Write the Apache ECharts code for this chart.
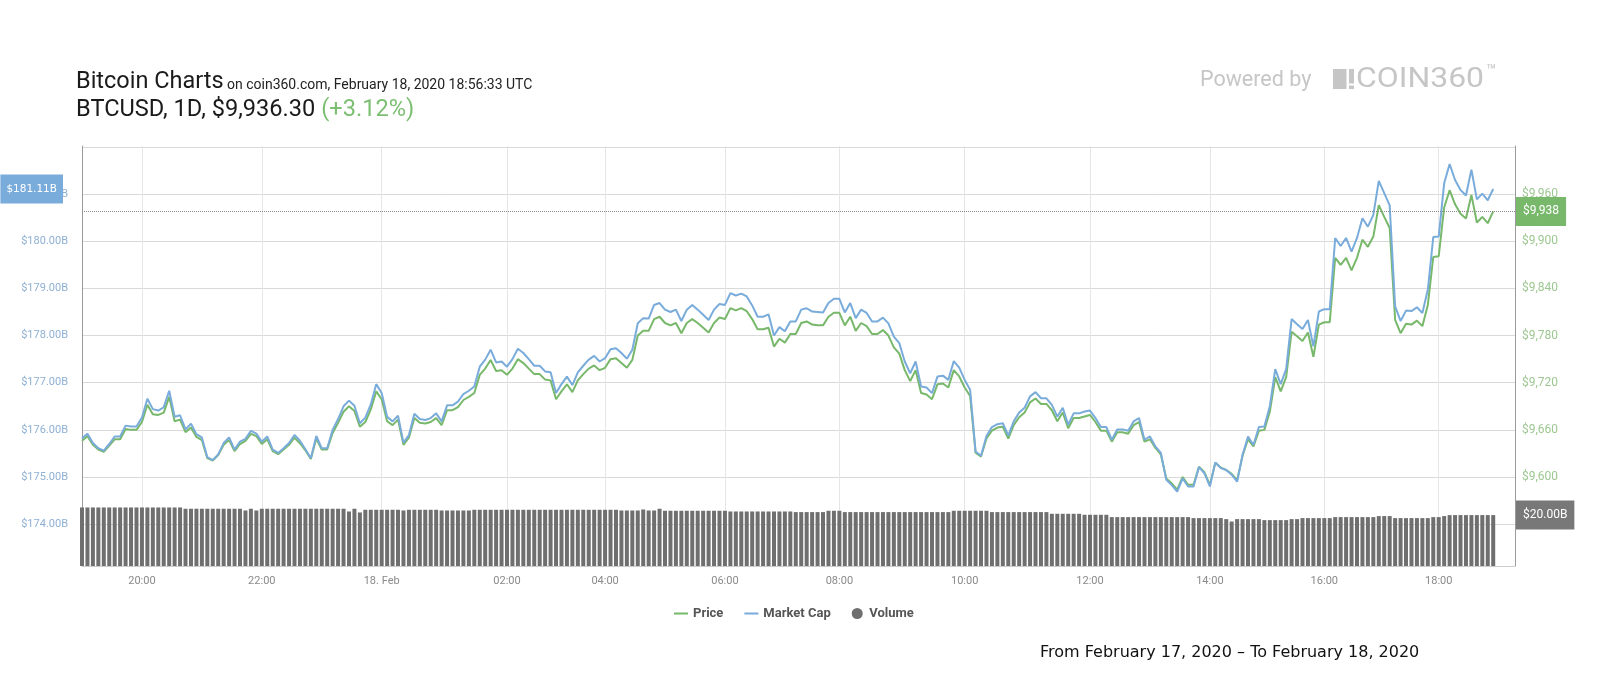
<!DOCTYPE html>
<html><head><meta charset="utf-8">
<script src="https://cdn.jsdelivr.net/npm/echarts@6/dist/echarts.min.js"></script>
<style>html,body{margin:0;padding:0;background:#fff}#c{width:1600px;height:700px}</style>
</head><body><div id="c"></div>
<script>
// ---- data ----
const price = [
9646,9652,9641,9635,9632,9640,9648,9648,9661,9660,
9660,9670,9692,9680,9679,9682,9702,9671,9673,9657,
9663,9651,9647,9624,9621,9628,9641,9647,9633,9642,
9646,9655,9652,9642,9648,9633,9629,9635,9641,9650,
9643,9634,9623,9649,9635,9635,9656,9669,9683,9690,
9684,9664,9670,9686,9709,9699,9671,9666,9673,9641,
9650,9675,9669,9668,9670,9675,9666,9685,9685,9689,
9698,9702,9707,9730,9738,9749,9735,9736,9730,9738,
9750,9745,9738,9731,9731,9724,9723,9699,9709,9718,
9708,9723,9731,9738,9742,9736,9739,9750,9751,9745,
9739,9749,9780,9786,9786,9801,9804,9796,9793,9796,
9783,9796,9801,9796,9790,9784,9796,9803,9801,9815,
9812,9815,9811,9801,9788,9788,9790,9766,9776,9771,
9782,9782,9796,9798,9794,9793,9793,9804,9809,9809,
9793,9804,9786,9796,9792,9782,9782,9787,9780,9765,
9757,9736,9722,9736,9707,9705,9699,9718,9719,9714,
9736,9728,9714,9703,9631,9626,9649,9659,9663,9664,
9649,9666,9676,9682,9695,9700,9693,9693,9685,9671,
9682,9662,9675,9675,9677,9679,9670,9659,9659,9645,
9657,9657,9655,9666,9670,9645,9648,9637,9629,9598,
9592,9584,9600,9590,9590,9613,9606,9590,9618,9612,
9609,9604,9596,9627,9648,9639,9659,9660,9683,9727,
9709,9727,9785,9779,9773,9784,9753,9794,9797,9797,
9879,9870,9879,9863,9879,9902,9893,9906,9946,9931,
9917,9800,9783,9795,9794,9799,9792,9819,9880,9881,
9943,9965,9947,9935,9929,9959,9924,9931,9923,9938
];
const marketCap = [
175.82,175.92,175.72,175.61,175.56,175.70,175.86,175.86,176.09,176.07,
176.07,176.26,176.66,176.44,176.41,176.48,176.83,176.28,176.31,176.01,
176.13,175.91,175.84,175.42,175.36,175.48,175.72,175.84,175.58,175.75,
175.81,175.98,175.92,175.75,175.86,175.58,175.51,175.61,175.72,175.89,
175.77,175.59,175.40,175.87,175.61,175.61,176.00,176.23,176.50,176.62,
176.51,176.14,176.26,176.54,176.97,176.78,176.28,176.18,176.30,175.73,
175.89,176.34,176.23,176.21,176.25,176.35,176.18,176.52,176.52,176.60,
176.76,176.83,176.92,177.34,177.49,177.70,177.43,177.45,177.34,177.50,
177.72,177.63,177.50,177.36,177.36,177.24,177.22,176.78,176.97,177.13,
176.95,177.22,177.36,177.49,177.57,177.45,177.52,177.71,177.73,177.63,
177.51,177.70,178.26,178.37,178.36,178.65,178.69,178.55,178.50,178.55,
178.31,178.55,178.65,178.55,178.44,178.33,178.55,178.67,178.65,178.90,
178.85,178.89,178.83,178.64,178.40,178.40,178.45,178.00,178.18,178.09,
178.30,178.30,178.55,178.58,178.51,178.50,178.49,178.69,178.78,178.78,
178.49,178.69,178.37,178.55,178.48,178.30,178.30,178.38,178.26,177.98,
177.84,177.45,177.20,177.45,176.92,176.90,176.78,177.13,177.15,177.06,
177.46,177.32,177.06,176.85,175.54,175.45,175.87,176.06,176.12,176.14,
175.88,176.18,176.37,176.47,176.71,176.80,176.67,176.67,176.53,176.28,
176.47,176.11,176.35,176.35,176.39,176.41,176.25,176.06,176.06,175.79,
176.01,176.01,175.98,176.18,176.25,175.79,175.86,175.65,175.51,174.94,
174.83,174.69,174.97,174.80,174.80,175.21,175.08,174.80,175.31,175.19,
175.15,175.05,174.90,175.47,175.86,175.68,176.06,176.07,176.50,177.29,
176.97,177.29,178.35,178.24,178.14,178.33,177.77,178.51,178.56,178.56,
180.07,179.90,180.07,179.78,180.07,180.49,180.31,180.56,181.28,181.02,
180.76,178.62,178.31,178.53,178.52,178.60,178.48,178.97,180.09,180.10,
181.23,181.64,181.30,181.09,180.97,181.52,180.89,181.01,180.87,181.11
];
const volume = [
23.00,23.00,23.00,23.00,23.00,23.00,23.00,23.00,23.00,23.00,
23.00,23.00,23.00,23.00,23.00,23.00,23.00,23.00,23.00,22.49,
22.49,22.49,22.49,22.49,22.49,22.49,22.49,22.49,22.49,22.49,
21.81,22.49,21.81,22.49,22.49,22.49,22.49,22.49,22.49,22.49,
22.49,22.49,22.49,22.49,22.49,22.49,22.49,22.49,22.49,21.42,
22.49,21.03,22.09,22.09,22.09,22.09,22.09,22.09,22.09,21.81,
22.09,22.09,22.09,22.09,22.09,22.09,21.81,21.81,21.81,21.81,
21.81,21.81,22.09,22.09,22.09,22.09,22.09,22.09,22.09,22.09,
22.09,22.09,22.09,22.09,22.09,22.09,22.09,22.09,22.09,22.09,
22.09,22.09,22.09,22.09,22.09,22.09,22.09,22.09,22.09,21.81,
21.81,21.81,21.81,22.20,21.81,21.81,22.49,21.70,21.70,21.70,
21.70,21.70,21.70,21.70,21.70,21.70,21.70,21.70,21.70,21.42,
21.42,21.42,21.42,21.42,21.42,21.42,21.42,21.42,21.42,21.42,
21.42,21.18,21.18,21.18,21.18,21.18,21.18,21.70,21.70,21.70,
21.18,21.18,21.18,21.18,21.18,21.18,21.18,21.18,21.18,21.18,
21.18,21.18,21.18,21.18,21.18,21.18,21.18,21.18,21.18,21.18,
21.70,21.70,21.70,21.70,21.70,21.70,21.70,21.18,21.18,21.18,
21.18,21.18,21.18,21.18,21.18,21.18,21.18,21.18,20.51,20.51,
20.51,20.51,20.51,20.51,20.12,20.12,20.12,20.12,20.12,19.21,
19.21,19.21,19.21,19.21,19.21,19.21,19.21,19.21,19.21,19.21,
19.21,19.21,19.21,19.21,18.82,18.82,18.82,18.82,18.82,18.82,
18.42,17.48,18.42,18.42,18.42,18.42,18.42,18.03,18.03,18.03,
18.03,18.03,18.42,18.42,18.82,18.82,18.82,18.82,18.82,18.82,
19.21,19.21,19.21,19.21,19.21,19.21,19.21,19.21,19.61,19.61,
19.61,18.82,18.82,18.82,18.82,18.82,18.82,18.82,19.21,19.21,
19.61,20.00,20.00,20.00,20.00,20.00,20.00,20.00,20.00,20.00
];
const xTickIndex  = [11, 33, 55, 78, 96, 118, 139, 162, 185, 207, 228, 249];
const xTickLabels = ['20:00','22:00','18. Feb','02:00','04:00','06:00','08:00','10:00','12:00','14:00','16:00','18:00'];
const slotCount = 264; // time slots on the ordinal axis (last few are empty padding)
const legendNames = ['Price', 'Market Cap', 'Volume'];

// ---- chart ----
const cats = [];
for (let i = 0; i < slotCount; i++) cats.push(String(i));
const isTick = (idx) => xTickIndex.indexOf(idx) >= 0;

const C_GREEN = '#78b86b', C_BLUE = '#79acda', C_VOL = '#6f6f6f';
const CLEAR = 'rgba(0,0,0,0)';
const lastPrice = price[price.length - 1];
const lastCap = marketCap[marketCap.length - 1];
const lastVol = volume[volume.length - 1];
const linePath = 'path://M0,0L0.001,0M0,4.5L14,4.5L14,6.5L0,6.5ZM14,11L13.999,11';

const chart = echarts.init(document.getElementById('c'), null, {renderer: 'canvas'});
chart.setOption({
  animation: false,
  backgroundColor: '#ffffff',
  grid: [
    {left: 82, right: 85, top: 147, bottom: 128.7, containLabel: false, outerBoundsMode: 'none'},
    {left: 82, right: 85, top: 146, bottom: 134, containLabel: false, outerBoundsMode: 'none'}
  ],
  xAxis: [
    {type: 'category', gridIndex: 0, data: cats, boundaryGap: false, show: false},
    {type: 'category', gridIndex: 1, data: cats, boundaryGap: false,
      axisLine: {show: true, lineStyle: {color: '#cccccc', width: 1}},
      axisTick: {show: false},
      axisLabel: {interval: (i) => isTick(i), formatter: (v, i) => xTickLabels[xTickIndex.indexOf(Number(v))] || '',
        color: '#8a8a8a', fontFamily: 'Roboto', fontSize: 11, margin: 10},
      splitLine: {show: true, interval: (i) => isTick(i), lineStyle: {color: '#e6e6e6', width: 1}}
    }
  ],
  yAxis: [
    {type: 'value', gridIndex: 0, position: 'left', min: 173, max: 182, interval: 1,
      axisLine: {show: false}, axisTick: {show: false},
      axisLabel: {showMinLabel: false, showMaxLabel: false, formatter: (v) => '$' + v.toFixed(2) + 'B', color: '#8eb0d4',
        fontFamily: 'Roboto', fontSize: 11, margin: 14},
      splitLine: {show: true, showMinLine: false, lineStyle: {color: '#d9d9d9', width: 1}}
    },
    {type: 'value', gridIndex: 0, position: 'right', min: 9480, max: 10020, interval: 60,
      axisLine: {show: false}, axisTick: {show: false},
      axisLabel: {showMinLabel: false, showMaxLabel: false, formatter: (v) => '$' + v.toLocaleString('en-US'), color: '#9dc792',
        fontFamily: 'Roboto', fontSize: 12, margin: 7},
      splitLine: {show: false}
    },
    {type: 'value', gridIndex: 1, position: 'left', min: 0, max: 165,
      axisLine: {show: true, lineStyle: {color: '#9a9a9a', width: 1}}, axisTick: {show: false},
      axisLabel: {show: false}, splitLine: {show: false}
    },
    {type: 'value', gridIndex: 1, position: 'right', min: 0, max: 165,
      axisLine: {show: true, lineStyle: {color: '#9a9a9a', width: 1}}, axisTick: {show: false},
      axisLabel: {show: false}, splitLine: {show: false}
    }
  ],
  legend: {
    left: 669, top: 602, itemWidth: 14, itemHeight: 11, itemGap: 21,
    itemStyle: {borderWidth: 0},
    textStyle: {fontFamily: 'Roboto', fontSize: 13, fontWeight: 'bold', color: '#555555'},
    selectedMode: false,
    data: [
      {name: legendNames[0], icon: linePath},
      {name: legendNames[1], icon: linePath},
      {name: legendNames[2], icon: 'circle'}
    ]
  },
  series: [
    {name: legendNames[0], type: 'line', xAxisIndex: 0, yAxisIndex: 1, data: price,
      symbol: 'none', color: C_GREEN, lineStyle: {color: C_GREEN, width: 2}, z: 3,
      markLine: {silent: true, symbol: 'none',
        lineStyle: {type: 'dotted', color: '#8a8a8a', width: 1},
        label: {show: true, position: 'end', distance: 1, formatter: (p) => '$' + Math.round(p.value).toLocaleString('en-US'),
          backgroundColor: C_GREEN, color: '#ffffff', fontFamily: 'Roboto', fontSize: 12, lineHeight: 13, padding: [8, 7, 8, 7]},
        data: [{yAxis: lastPrice}]}
    },
    {name: legendNames[1], type: 'line', xAxisIndex: 0, yAxisIndex: 0, data: marketCap,
      symbol: 'none', color: C_BLUE, lineStyle: {color: C_BLUE, width: 2}, z: 4,
      markLine: {silent: true, symbol: 'none',
        lineStyle: {color: CLEAR, width: 1, type: 'solid'},
        label: {show: true, position: 'start', distance: 19, formatter: (p) => '$' + p.value.toFixed(2) + 'B',
          backgroundColor: C_BLUE, color: '#ffffff', fontFamily: 'DejaVu Sans', fontSize: 10.5, lineHeight: 13, padding: [8, 6, 8, 6]},
        data: [{yAxis: lastCap}]}
    },
    {name: legendNames[2], type: 'bar', xAxisIndex: 1, yAxisIndex: 2, data: volume,
      barWidth: 4, color: C_VOL, itemStyle: {color: C_VOL}, z: 2,
      markLine: {silent: true, symbol: 'none',
        lineStyle: {color: CLEAR, width: 1, type: 'solid'},
        label: {show: true, position: 'end', distance: 1, formatter: (p) => '$' + p.value.toFixed(2) + 'B',
          backgroundColor: '#787878', color: '#ffffff', fontFamily: 'Roboto', fontSize: 12, lineHeight: 13, padding: [8, 7, 8, 7]},
        data: [{yAxis: lastVol}]}
    }
  ],
  graphic: [
    {type: 'text', x: 76, y: 82.5, style: {text: 'Bitcoin Charts', font: '23.5px Roboto', fill: '#1a1a1a', textVerticalAlign: 'middle', verticalAlign: 'middle'}},
    {type: 'text', x: 227, y: 85, style: {text: 'on coin360.com, February 18, 2020 18:56:33 UTC', font: '14px Roboto', fill: '#222222', textVerticalAlign: 'middle', verticalAlign: 'middle'}},
    {type: 'text', x: 76, y: 110.5, style: {text: '{a|BTCUSD, 1D, $9,936.30 }{b|(+3.12%)}', fill: '#1a1a1a', textVerticalAlign: 'middle', verticalAlign: 'middle',
      rich: {a: {fontFamily: 'Roboto', fontSize: 23.6, fill: '#1a1a1a', color: '#1a1a1a'}, b: {fontFamily: 'Roboto', fontSize: 23.6, fill: '#7cbf72', color: '#7cbf72'}}}},
    {type: 'text', x: 1200, y: 81, style: {text: 'Powered by', font: '21.5px Roboto', fill: '#c6c6c6', textVerticalAlign: 'middle', verticalAlign: 'middle'}},
    {type: 'rect', shape: {x: 1333, y: 69, width: 13.5, height: 20}, style: {fill: '#c6c6c6'}},
    {type: 'rect', shape: {x: 1349, y: 69, width: 5, height: 14.5}, style: {fill: '#c6c6c6'}},
    {type: 'rect', shape: {x: 1349, y: 85.5, width: 5, height: 3.5}, style: {fill: '#c6c6c6'}},
    {type: 'text', x: 1356, y: 79.5, scaleX: 1.14, style: {text: 'COIN360', font: '28px Roboto', fill: '#c6c6c6', textVerticalAlign: 'middle', verticalAlign: 'middle'}},
    {type: 'text', x: 1486, y: 72, style: {text: '™', font: '17px Roboto', fill: '#c6c6c6', textVerticalAlign: 'middle', verticalAlign: 'middle'}},
    {type: 'text', x: 1040, y: 652.5, style: {text: 'From February 17, 2020 – To February 18, 2020', font: '16px "DejaVu Sans"', fill: '#111111', textVerticalAlign: 'middle', verticalAlign: 'middle'}}
  ]
});
</script>
</body></html>
